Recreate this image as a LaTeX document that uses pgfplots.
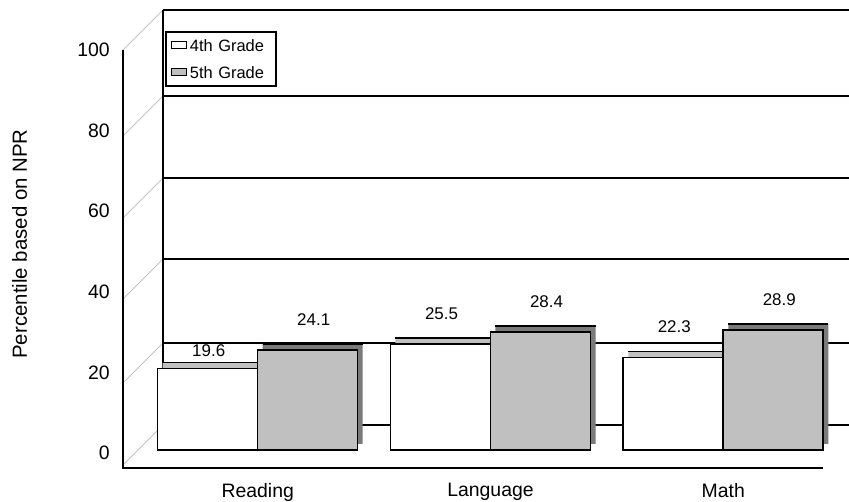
\documentclass[border=0pt]{standalone}
\usepackage{fontspec}
\setmainfont{Liberation Sans}
\usepackage{pgfplots}
\pgfplotsset{compat=1.18}
\definecolor{barfill}{HTML}{C0C0C0}
\definecolor{sidedark}{HTML}{7A7A7A}
\definecolor{diag}{HTML}{C4C4C4}
\pgfplotsset{
  base/.style={scale only axis, width=726bp, height=458bp, clip=false,
    xmin=-0.5786, xmax=2.540, at={(0bp,0bp)}, anchor=south west},
  barmap/.style={ymin=-4.337, ymax=106.02},
}
\begin{document}
\begin{tikzpicture}
\path[use as bounding box] (-123bp,-34bp) rectangle (726bp,468bp);
% back wall and floor diagonals (pixel coordinates)
\begin{scope}[x=1bp,y=-1bp,shift={(-123bp,468bp)}]
  \foreach \b in {10,96,178,259,343,425} {
    \draw[diag, line width=0.8bp] (123,\b+40) -- (163,\b);
    \draw[black, line width=1.6bp] (163,\b) -- (849,\b);
  }
  \draw[black, line width=1.6bp] (163,10) -- (163,425);
\end{scope}
% frame axis: ticks and labels
\begin{axis}[base, ymin=-3.72, ymax=109.93,
  axis line style={draw=none}, tick style={draw=none},
  ytick={0,20,40,60,80,100},
  xtick={0,1,2}, xticklabels={Reading,Language,Math},
  /pgf/number format/assume math mode=true,
  yticklabel style={font=\fontsize{19.5}{22}\selectfont, inner sep=0pt, xshift=-13bp},
  xticklabel style={font=\fontsize{19.5}{23}\selectfont, inner sep=0pt, yshift=-15bp},
  ylabel={Percentile based on NPR},
  ylabel style={font=\fontsize{20.5}{24}\selectfont, at={(axis description cs:-0.1426,0.489)}, anchor=center},
]
\end{axis}
% 3D depth of the bars
\begin{axis}[base, barmap, at={(5bp,6bp)}, hide axis]
  \addplot[ybar, bar width=100bp, bar shift=-50bp, fill=barfill, draw=none]
    coordinates {(0,19.6) (1,25.5) (2,22.3)};
  \addplot[ybar, bar width=100bp, bar shift=50bp, fill=sidedark, draw=none]
    coordinates {(0,24.1) (1,28.4) (2,28.9)};
  \addplot[only marks, mark=-, mark size=50bp, xshift=-50bp, mark options={line width=1.6bp, black}]
    coordinates {(0,19.6) (1,25.5) (2,22.3)};
  \addplot[only marks, mark=-, mark size=50bp, xshift=50bp, mark options={line width=1.6bp, black}]
    coordinates {(0,24.1) (1,28.4) (2,28.9)};
\end{axis}
% front bars
\begin{axis}[base, barmap,
  axis line style={draw=none}, xtick=\empty, ytick=\empty,
  /pgf/number format/assume math mode=true,
  legend style={at={(0.0579,0.9541)}, anchor=north west, draw=black, line width=1.6bp,
    font=\fontsize{16.5}{19}\selectfont, inner xsep=5bp, inner ysep=4.5bp, row sep=9bp,
    nodes={inner xsep=3bp, inner ysep=3bp, text height=12bp, text depth=0bp, text width=78bp, align=left},
    cells={anchor=west}},
  legend image code/.code={\draw[#1, line width=1.1bp] (0bp,-3.5bp) rectangle (15bp,4bp);},
]
  \addplot[ybar, bar width=100bp, bar shift=-50bp, fill=white, draw=black, line width=1.6bp,
    visualization depends on={y \as \rawy},
    nodes near coords, every node near coord/.append style={font=\fontsize{17}{20}\selectfont, inner sep=0pt,
      yshift={ifthenelse(\rawy<20,11,24)*1bp}, xshift=-49bp}]
    coordinates {(0,19.6) (1,25.5) (2,22.3)};
  \addplot[ybar, bar width=100bp, bar shift=50bp, fill=barfill, draw=black, line width=1.6bp,
    nodes near coords, every node near coord/.append style={font=\fontsize{17}{20}\selectfont, inner sep=0pt, yshift=24bp, xshift=56bp}]
    coordinates {(0,24.1) (1,28.4) (2,28.9)};
  \legend{4th Grade, 5th Grade}
\end{axis}
% front axis and floor edge
\begin{scope}[x=1bp,y=-1bp,shift={(-123bp,468bp)}]
  \draw[black, line width=1.8bp] (123,50) -- (123,468) -- (823,468);
\end{scope}
\end{tikzpicture}
\end{document}
